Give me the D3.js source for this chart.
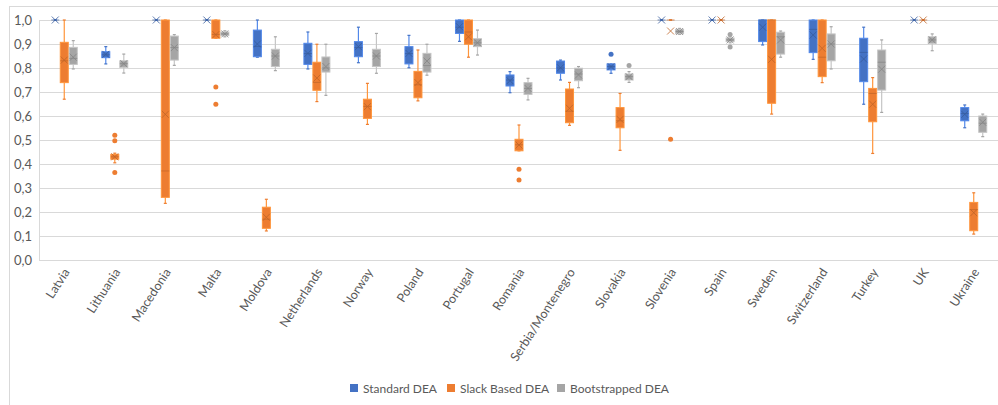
<!DOCTYPE html>
<html>
<head>
<meta charset="utf-8">
<script src="https://cdn.jsdelivr.net/npm/d3@7"></script>
<style>
  body { margin: 0; background: #fff; }
  text { font-family: Lato, "Open Sans", sans-serif; fill: #595959; }
</style>
</head>
<body>
<div id="chart"></div>
<script>
// Categories
const countries = ['Latvia', 'Lithuania', 'Macedonia', 'Malta', 'Moldova', 'Netherlands', 'Norway',
  'Poland', 'Portugal', 'Romania', 'Serbia/Montenegro', 'Slovakia', 'Slovenia', 'Spain', 'Sweden',
  'Switzerland', 'Turkey', 'UK', 'Ukraine'];

const seriesNames = ['Standard DEA', 'Slack Based DEA', 'Bootstrapped DEA'];
const seriesColors = ['#4472C4', '#ED7D31', '#A5A5A5'];

const yTicks = [0, 0.1, 0.2, 0.3, 0.4, 0.5, 0.6, 0.7, 0.8, 0.9, 1.0];

// each row: [min whisker, q1, median, q3, max whisker, mean]
const standardDEA = [
  [1, 1, 1, 1, 1, 1],
  [0.817, 0.843, 0.855, 0.868, 0.889, 0.857],
  [1, 1, 1, 1, 1, 1],
  [1, 1, 1, 1, 1, 1],
  [0.845, 0.847, 0.89, 0.958, 1.0, 0.9],
  [0.796, 0.815, 0.86, 0.903, 0.95, 0.861],
  [0.822, 0.847, 0.885, 0.91, 0.97, 0.889],
  [0.801, 0.817, 0.86, 0.889, 0.936, 0.861],
  [0.911, 0.944, 0.97, 1.0, 1.0, 0.972],
  [0.697, 0.725, 0.75, 0.771, 0.785, 0.747],
  [0.75, 0.778, 0.8, 0.829, 0.833, 0.801],
  [0.778, 0.792, 0.806, 0.817, 0.817, 0.806],
  [1, 1, 1, 1, 1, 1],
  [1, 1, 1, 1, 1, 1],
  [0.896, 0.91, 1.0, 1.0, 1.0, 0.97],
  [0.836, 0.864, 0.961, 1.0, 1.0, 0.9375],
  [0.649, 0.743, 0.865, 0.924, 0.97, 0.8375],
  [1, 1, 1, 1, 1, 1],
  [0.551, 0.58, 0.61, 0.635, 0.646, 0.607]
];
const slackDEA = [
  [0.67, 0.739, 0.83, 0.907, 1.0, 0.833],
  [0.405, 0.42, 0.43, 0.44, 0.445, 0.43],
  [0.236, 0.261, 0.371, 1.0, 1.0, 0.607],
  [0.924, 0.924, 0.94, 1.0, 1.0, 0.939],
  [0.121, 0.132, 0.17, 0.22, 0.253, 0.178],
  [0.66, 0.707, 0.74, 0.824, 0.899, 0.758],
  [0.565, 0.59, 0.64, 0.67, 0.736, 0.639],
  [0.663, 0.676, 0.73, 0.786, 0.875, 0.739],
  [0.845, 0.899, 0.95, 1.0, 1.0, 0.93],
  [0.455, 0.455, 0.48, 0.503, 0.5625, 0.479],
  [0.561, 0.572, 0.62, 0.7125, 0.74, 0.632],
  [0.457, 0.551, 0.58, 0.635, 0.694, 0.586],
  [1, 1, 1, 1, 1, 0.954],
  [1, 1, 1, 1, 1, 1],
  [0.608, 0.653, 1.0, 1.0, 1.0, 0.836],
  [0.739, 0.764, 0.845, 1.0, 1.0, 0.882],
  [0.444, 0.576, 0.694, 0.715, 0.76, 0.649],
  [1, 1, 1, 1, 1, 1],
  [0.108, 0.122, 0.21, 0.24, 0.28, 0.197]
];
const bootDEA = [
  [0.796, 0.815, 0.84, 0.886, 0.914, 0.845],
  [0.779, 0.803, 0.818, 0.83, 0.858, 0.818],
  [0.811, 0.833, 0.885, 0.933, 0.939, 0.885],
  [0.93, 0.935, 0.942, 0.95, 0.955, 0.942],
  [0.789, 0.806, 0.85, 0.878, 0.93, 0.85],
  [0.686, 0.783, 0.8, 0.846, 0.899, 0.806],
  [0.778, 0.806, 0.85, 0.878, 0.944, 0.85],
  [0.77, 0.783, 0.81, 0.861, 0.899, 0.829],
  [0.854, 0.889, 0.905, 0.922, 0.958, 0.905],
  [0.667, 0.69, 0.715, 0.739, 0.757, 0.715],
  [0.718, 0.747, 0.775, 0.799, 0.806, 0.771],
  [0.74, 0.75, 0.764, 0.775, 0.785, 0.764],
  [0.94, 0.943, 0.952, 0.961, 0.965, 0.952],
  [0.905, 0.91, 0.917, 0.925, 0.93, 0.917],
  [0.845, 0.858, 0.93, 0.949, 0.954, 0.917],
  [0.796, 0.83, 0.9, 0.942, 0.972, 0.9],
  [0.615, 0.708, 0.824, 0.875, 0.917, 0.795],
  [0.872, 0.903, 0.917, 0.93, 0.942, 0.917],
  [0.514, 0.532, 0.57, 0.6, 0.608, 0.574]
];

// outlier points: [country, value]
const standardOutliers = [['Slovakia', 0.857]];
const slackOutliers = [['Lithuania', 0.52], ['Lithuania', 0.497], ['Lithuania', 0.365],
  ['Malta', 0.721], ['Malta', 0.649], ['Romania', 0.378], ['Romania', 0.333], ['Slovenia', 0.503]];
const bootOutliers = [['Slovakia', 0.81], ['Spain', 0.94], ['Spain', 0.888]];

const allSeries = [standardDEA, slackDEA, bootDEA];
const allOutliers = [standardOutliers, slackOutliers, bootOutliers];

// SVG setup
let svgWidth = 998;
let svgHeight = 405;
let margin = { top: 20, left: 39, right: -1 };
let plotBottom = 260;

let svg = d3.select('#chart').append('svg')
  .attr('width', svgWidth)
  .attr('height', svgHeight);

// chart frame
svg.append('rect')
  .attr('x', 9.5).attr('y', 6.5)
  .attr('width', 1100).attr('height', 600)
  .attr('fill', 'none').attr('stroke', '#d9d9d9');

// scales
let x = d3.scaleBand()
  .domain(countries)
  .range([margin.left, svgWidth - margin.right]);

let y = d3.scaleLinear()
  .domain([0, 1])
  .range([plotBottom, margin.top]);

let offsets = [-9, 0, 9];
let boxW = 8;

let comma = d3.formatLocale({ decimal: ',', thousands: '.', grouping: [3], currency: ['', ''] }).format('.1f');

// gridlines + y labels
let yAxis = svg.append('g')
  .attr('transform', `translate(${margin.left},0)`)
  .call(d3.axisLeft(y).tickValues(yTicks).tickFormat(comma)
    .tickSize(-(svgWidth - margin.left)).tickPadding(7));
yAxis.select('.domain').remove();
yAxis.selectAll('line').attr('stroke', '#d9d9d9');
yAxis.selectAll('text').style('font-size', '13px').attr('fill', '#595959');

// left axis line
svg.append('line')
  .attr('x1', margin.left + 0.5).attr('x2', margin.left + 0.5)
  .attr('y1', margin.top).attr('y2', plotBottom)
  .attr('stroke', '#d9d9d9');

// x labels
svg.append('g').selectAll('text')
  .data(countries)
  .enter()
  .append('text')
  .attr('transform', d => `translate(${x(d) + x.bandwidth() / 2 + 6}, 272) rotate(-57)`)
  .attr('text-anchor', 'end')
  .style('font-size', '12.5px')
  .text(d => d);

// boxes
allSeries.forEach(function(series, s) {
  let color = seriesColors[s];
  let dark = d3.color(color).darker(0.6);
  let light = d3.color(color).brighter(0.5);
  let g = svg.append('g');

  let box = g.selectAll('g')
    .data(series)
    .enter()
    .append('g')
    .attr('transform', (d, i) => `translate(${x(countries[i]) + x.bandwidth() / 2 + offsets[s]},0)`);

  // whiskers
  box.append('line')
    .attr('x1', 0).attr('x2', 0)
    .attr('y1', d => y(d[0])).attr('y2', d => y(d[1]))
    .attr('stroke', light).attr('stroke-width', 1.2);
  box.append('line')
    .attr('x1', 0).attr('x2', 0)
    .attr('y1', d => y(d[3])).attr('y2', d => y(d[4]))
    .attr('stroke', light).attr('stroke-width', 1.2);
  // caps
  [0, 4].forEach(function(k) {
    box.append('line')
      .attr('x1', -1.5).attr('x2', 1.5)
      .attr('y1', d => y(d[k])).attr('y2', d => y(d[k]))
      .attr('stroke', color).attr('stroke-width', 1.2);
  });

  // box body
  box.append('rect')
    .attr('x', -boxW / 2)
    .attr('y', d => y(d[3]))
    .attr('width', boxW)
    .attr('height', d => Math.max(0, y(d[1]) - y(d[3])))
    .attr('fill', color)
    .attr('stroke', light)
    .attr('stroke-width', 1);

  // median
  box.append('line')
    .attr('x1', -boxW / 2).attr('x2', boxW / 2)
    .attr('y1', d => y(d[2])).attr('y2', d => y(d[2]))
    .attr('stroke', dark).attr('stroke-opacity', 0.7).attr('stroke-width', 1);

  // mean marker (x)
  let m = 3.5;
  box.append('path')
    .attr('d', d => {
      let cy = y(d[5]);
      return `M${-m},${cy - m}L${m},${cy + m}M${-m},${cy + m}L${m},${cy - m}`;
    })
    .attr('fill', 'none')
    .attr('stroke', dark).attr('stroke-opacity', 0.8).attr('stroke-width', 1);

  // outliers
  g.selectAll('circle')
    .data(allOutliers[s])
    .enter()
    .append('circle')
    .attr('cx', d => x(d[0]) + x.bandwidth() / 2 + offsets[s])
    .attr('cy', d => y(d[1]))
    .attr('r', 2.5)
    .attr('fill', color);
});

// legend
let legendItems = [
  { name: seriesNames[0], color: seriesColors[0], x: 350 },
  { name: seriesNames[1], color: seriesColors[1], x: 447 },
  { name: seriesNames[2], color: seriesColors[2], x: 557 }
];
let legend = svg.append('g').selectAll('g')
  .data(legendItems)
  .enter()
  .append('g')
  .attr('transform', d => `translate(${d.x},384)`);
legend.append('rect')
  .attr('width', 8).attr('height', 8)
  .attr('fill', d => d.color);
legend.append('text')
  .attr('x', 13).attr('y', 8.5)
  .style('font-size', '12px')
  .text(d => d.name);
</script>
</body>
</html>
